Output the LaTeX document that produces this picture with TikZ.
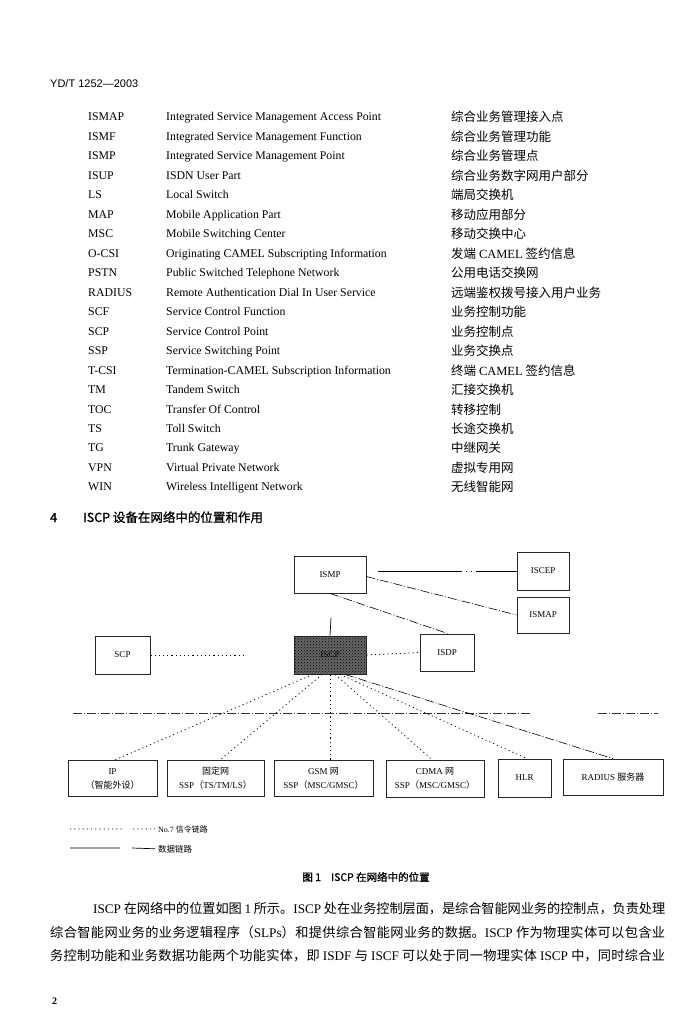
\documentclass[tikz,border=0pt]{standalone}
\usepackage{fontspec}
\setmainfont{Liberation Serif}
\newfontfamily\cjk{Noto Sans CJK SC}
\newfontfamily\hei{Noto Sans CJK SC}[FakeBold=1.2]
\newfontfamily\heros{Liberation Sans}
\usetikzlibrary{patterns}
\XeTeXlinebreaklocale "zh"
\XeTeXlinebreakskip=0pt plus 2pt minus 0.3pt
\XeTeXinterchartokenstate=1
\XeTeXinterchartoks 1 1 {\hskip 0pt plus 1pt\relax}
\XeTeXinterchartoks 1 2 {\hskip 0pt plus 1pt\relax}
\XeTeXinterchartoks 3 1 {\hskip 0pt plus 1pt\relax}
\XeTeXinterchartoks 3 2 {\hskip 0pt plus 1pt\relax}
\newcommand\lat[1]{{\rmfamily #1}}
\newcommand\zh[1]{{\cjk #1}}

\begin{document}
\begin{tikzpicture}[x=1pt, y=-1pt, every node/.style={inner sep=0pt},
  box/.style={draw=black!85, line width=0.8pt, align=center, font=\fontsize{9}{14}\selectfont},
  sig/.style={line width=0.7pt, dash pattern=on 1.2pt off 3pt},
  data/.style={line width=0.7pt},
  mixed/.style={line width=0.6pt, dash pattern=on 9pt off 2pt on 1pt off 2pt}]
\fill[white] (0,0) rectangle (681,1024);

% Header
\node[anchor=base west, font=\heros\fontsize{11}{13}\selectfont] (head) at (50,88) {YD/T 1252—2003};

% Abbreviations
\foreach \ab/\full/\hanzi [count=\i] in {
  ISMAP/Integrated Service Management Access Point/综合业务管理接入点,
  ISMF/Integrated Service Management Function/综合业务管理功能,
  ISMP/Integrated Service Management Point/综合业务管理点,
  ISUP/ISDN User Part/综合业务数字网用户部分,
  LS/Local Switch/端局交换机,
  MAP/Mobile Application Part/移动应用部分,
  MSC/Mobile Switching Center/移动交换中心,
  O-CSI/Originating CAMEL Subscripting Information/发端 \lat{CAMEL} 签约信息,
  PSTN/Public Switched Telephone Network/公用电话交换网,
  RADIUS/Remote Authentication Dial In User Service/远端鉴权拨号接入用户业务,
  SCF/Service Control Function/业务控制功能,
  SCP/Service Control Point/业务控制点,
  SSP/Service Switching Point/业务交换点,
  T-CSI/Termination-CAMEL Subscription Information/终端 \lat{CAMEL} 签约信息,
  TM/Tandem Switch/汇接交换机,
  TOC/Transfer Of Control/转移控制,
  TS/Toll Switch/长途交换机,
  TG/Trunk Gateway/中继网关,
  VPN/Virtual Private Network/虚拟专用网,
  WIN/Wireless Intelligent Network/无线智能网}{
  \node[anchor=base west, font=\fontsize{11.8}{14}\selectfont] (ab\i) at (88,{121+19.47*(\i-1)}) {\ab};
  \node[anchor=base west, font=\fontsize{11.8}{14}\selectfont] (full\i) at (166,{121+19.47*(\i-1)}) {\full};
  \node[anchor=base west, font=\cjk\fontsize{12.5}{14}\selectfont] (hanzi\i) at (451,{122+19.47*(\i-1)}) {\hanzi};
}

% Section
\node[anchor=base west, font=\hei\fontsize{12.5}{14}\selectfont] (sec) at (50,522) {4\hspace{26pt}ISCP 设备在网络中的位置和作用};

% Control layer
\node[box, minimum width=72pt, minimum height=37pt] (ismp) at (330,574.5) {ISMP};
\node[box, minimum width=52pt, minimum height=38pt] (iscep) at (543,571) {ISCEP};
\node[box, minimum width=52pt, minimum height=36pt] (ismap) at (543,615) {ISMAP};
\node[box, minimum width=55pt, minimum height=38pt] (scp) at (122.5,655) {SCP};
\node[box, minimum width=72pt, minimum height=38pt, preaction={fill=black!60}, pattern=crosshatch dots, pattern color=black] (iscp) at (330,655) {ISCP};
\node[box, minimum width=54pt, minimum height=37pt] (isdp) at (447,652.5) {ISDP};
\coordinate (stub) at (331,618);

% Layer border
\coordinate (lay1) at (73,713);
\coordinate (lay2) at (532,713);
\coordinate (lay3) at (598,713);
\coordinate (lay4) at (658,713);
\draw[mixed, black!80] (lay1) -- (lay2) (lay3) -- (lay4);

% Network layer
\node[box, minimum width=89pt, minimum height=36pt] (ip) at (112.5,778.5) {IP\\\zh{（智能外设）}};
\node[box, minimum width=97pt, minimum height=36pt] (fixed) at (215.5,778.5) {\zh{固定网}\\SSP\zh{（}TS/TM/LS\zh{）}};
\node[box, minimum width=99pt, minimum height=36pt] (gsm) at (323.5,778.5) {GSM \zh{网}\\SSP\zh{（}MSC/GMSC\zh{）}};
\node[box, minimum width=98pt, minimum height=37pt] (cdma) at (435,778.5) {CDMA \zh{网}\\SSP\zh{（}MSC/GMSC\zh{）}};
\node[box, minimum width=53pt, minimum height=38pt] (hlr) at (524.5,778) {HLR};
\node[box, minimum width=100pt, minimum height=36pt] (radius) at (613,777) {RADIUS \zh{服务器}};

% Data links
\draw[data, shorten <=12pt, dash pattern=on 84pt off 4pt on 1pt off 4pt on 1pt off 4pt on 80pt] (ismp.east |- iscep.west) -- (iscep.west);
\draw[mixed] ([yshift=-2pt]ismp.east) -- (ismap.west);
\draw[mixed] (ismp.south) -- ([xshift=1pt]isdp.north);
\draw[data] (stub) -- (iscp.north);
\draw[mixed] ([xshift=15pt]iscp.south) -- (radius.north);

% No.7 links
\draw[sig, shorten >=48pt] (scp.east) -- (iscp.west);
\draw[sig] (iscp.east) -- (isdp.west);
\draw[sig] ([xshift=-17pt]iscp.south) -- ([xshift=2pt]ip.north);
\draw[sig] ([xshift=-8pt]iscp.south) -- ([xshift=4.5pt]fixed.north);
\draw[sig] (iscp.south) -- ([xshift=6.5pt]gsm.north);
\draw[sig] ([xshift=5pt]iscp.south) -- ([xshift=-3pt]cdma.north);
\draw[sig] ([xshift=10pt]iscp.south) -- ([xshift=2.5pt]hlr.north);

% Legend
\node[anchor=base west, font=\fontsize{8}{10}\selectfont] (lgsig) at (158,832) {No.7 \zh{信令链路}};
\node[anchor=base west, font=\cjk\fontsize{8.5}{10}\selectfont] (lgdata) at (158,852) {数据链路};
\coordinate (ls1) at (70,829);
\coordinate (ls2) at (122,829);
\coordinate (ls3) at (133,829);
\coordinate (ld1) at (70,848);
\coordinate (ld2) at (120,848);
\coordinate (ld3) at (132,848);
\draw[sig] (ls1) -- (ls2) (ls3) -- ([xshift=-2pt]lgsig.west);
\draw[data] (ld1) -- (ld2) (ld3) -- ([xshift=-3pt]lgdata.west);

% Caption and text
\node[anchor=base, font=\hei\fontsize{10.5}{12}\selectfont] (cap) at (366,881) {图 1\hspace{10pt}ISCP 在网络中的位置};
\node[anchor=base west, text width=572pt, align=justify, font=\cjk\fontsize{13.2}{23}\selectfont] (par1) at (93,913) {\parfillskip=0pt \lat{ISCP} 在网络中的位置如图 \lat{1} 所示。\lat{ISCP} 处在业务控制层面，是综合智能网业务的控制点，负责处理\par};
\node[anchor=base west, text width=615pt, align=justify, font=\cjk\fontsize{13.2}{23}\selectfont] (par2) at (50,937) {\parfillskip=0pt 综合智能网业务的业务逻辑程序（\lat{SLPs}）和提供综合智能网业务的数据。\lat{ISCP} 作为物理实体可以包含业\par};
\node[anchor=base west, text width=615pt, align=justify, font=\cjk\fontsize{13.2}{23}\selectfont] (par3) at (50,960) {\parfillskip=0pt 务控制功能和业务数据功能两个功能实体，即 \lat{ISDF} 与 \lat{ISCF} 可以处于同一物理实体 \lat{ISCP} 中，同时综合业\par};
\node[anchor=base west, font=\bfseries\fontsize{10}{12}\selectfont] (pg) at (52,1004) {2};
\end{tikzpicture}
\end{document}
